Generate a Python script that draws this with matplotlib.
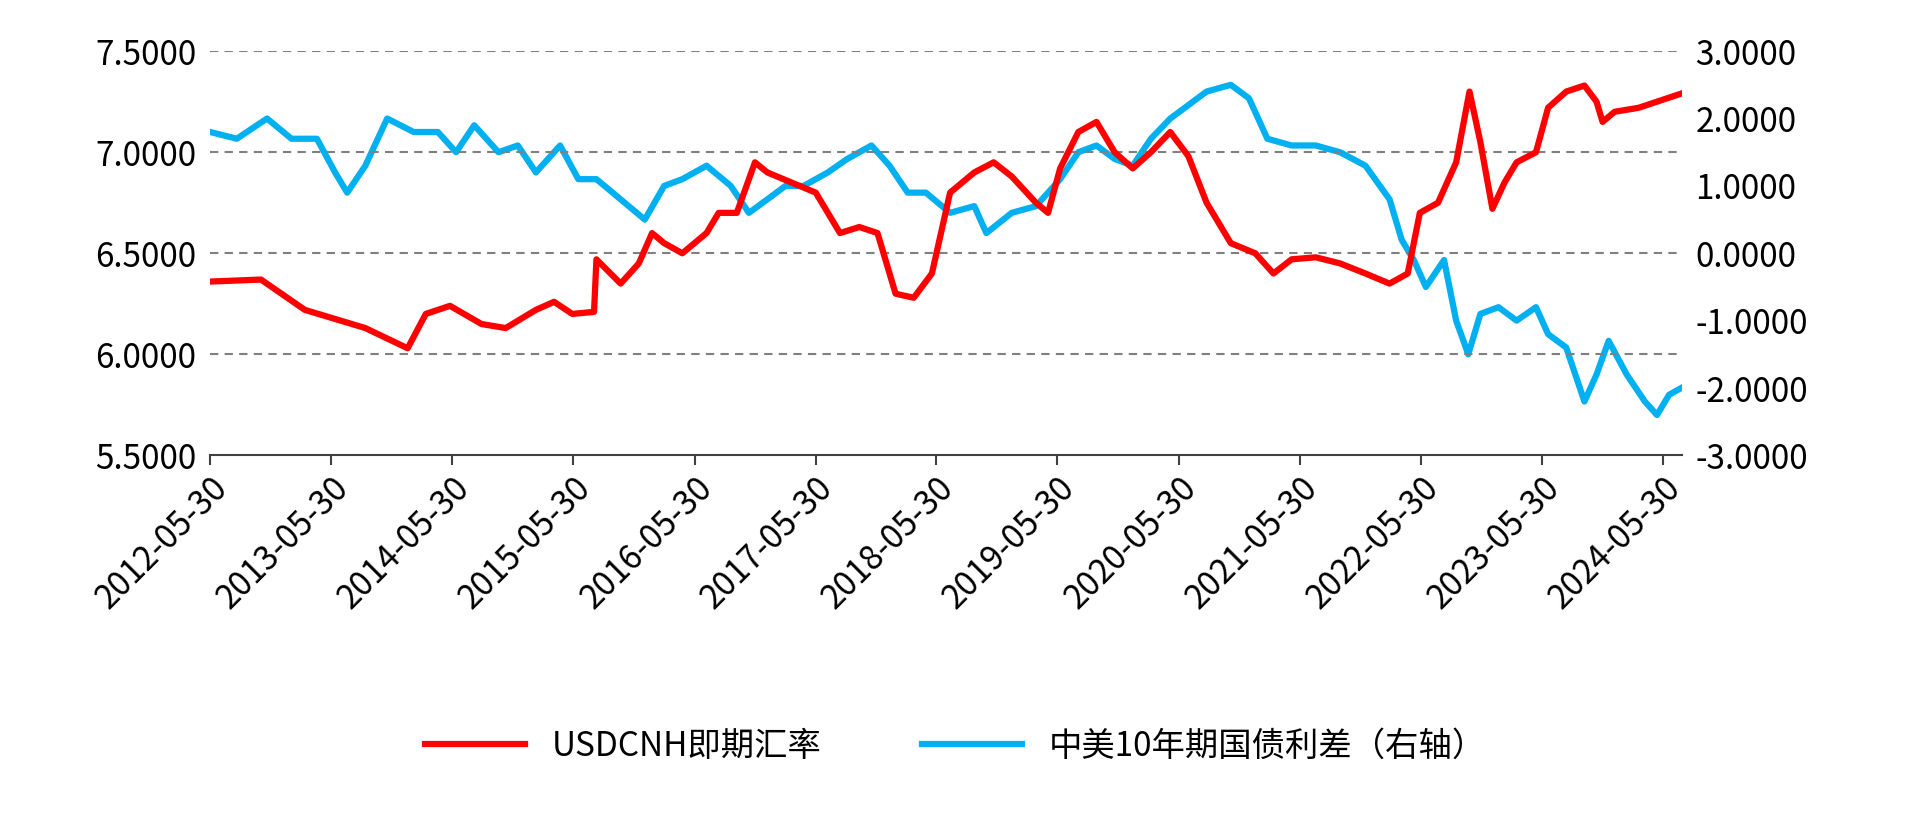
import matplotlib
matplotlib.use("Agg")
import matplotlib.pyplot as plt
import pandas as pd
import numpy as np

plt.rcParams["font.family"] = ["Noto Sans CJK SC"]

red_t = [2012.41,2012.83,2013.19,2013.69,2014.04,2014.19,2014.39,2014.65,2014.85,2015.10,2015.25,2015.40,2015.58,2015.60,2015.80,2015.95,2016.06,2016.16,2016.31,2016.51,2016.61,2016.76,2016.91,2017.01,2017.21,2017.41,2017.61,2017.77,2017.92,2018.07,2018.22,2018.37,2018.52,2018.72,2018.88,2019.03,2019.23,2019.33,2019.43,2019.58,2019.73,2019.88,2020.03,2020.18,2020.34,2020.49,2020.64,2020.84,2021.04,2021.19,2021.34,2021.54,2021.74,2021.95,2022.15,2022.30,2022.40,2022.55,2022.70,2022.81,2022.90,2023.00,2023.10,2023.20,2023.36,2023.46,2023.61,2023.76,2023.86,2023.91,2024.01,2024.21,2024.36,2024.56]
red_v = [6.36,6.37,6.22,6.13,6.03,6.20,6.24,6.15,6.13,6.22,6.26,6.20,6.21,6.47,6.35,6.45,6.60,6.55,6.50,6.60,6.70,6.70,6.95,6.90,6.85,6.80,6.60,6.63,6.60,6.30,6.28,6.40,6.80,6.90,6.95,6.88,6.75,6.70,6.92,7.10,7.15,7.00,6.92,7.00,7.10,6.98,6.75,6.55,6.50,6.40,6.47,6.48,6.45,6.40,6.35,6.40,6.70,6.75,6.95,7.30,7.05,6.72,6.85,6.95,7.00,7.22,7.30,7.33,7.25,7.15,7.20,7.22,7.25,7.29]

blue_t = [2012.41,2012.63,2012.88,2013.08,2013.29,2013.44,2013.54,2013.69,2013.87,2014.09,2014.29,2014.44,2014.59,2014.79,2014.95,2015.10,2015.30,2015.45,2015.60,2015.80,2016.00,2016.16,2016.31,2016.51,2016.71,2016.86,2017.01,2017.16,2017.31,2017.51,2017.67,2017.87,2018.02,2018.17,2018.32,2018.52,2018.72,2018.82,2019.03,2019.23,2019.43,2019.58,2019.73,2019.88,2020.03,2020.18,2020.34,2020.49,2020.64,2020.84,2020.99,2021.14,2021.34,2021.54,2021.74,2021.95,2022.15,2022.25,2022.35,2022.45,2022.60,2022.70,2022.80,2022.90,2023.05,2023.20,2023.36,2023.46,2023.61,2023.76,2023.86,2023.96,2024.11,2024.26,2024.36,2024.46,2024.56]
blue_v = [1.8,1.7,2.0,1.7,1.7,1.2,0.9,1.3,2.0,1.8,1.8,1.5,1.9,1.5,1.6,1.2,1.6,1.1,1.1,0.8,0.5,1.0,1.1,1.3,1.0,0.6,0.8,1.0,1.0,1.2,1.4,1.6,1.3,0.9,0.9,0.6,0.7,0.3,0.6,0.7,1.1,1.5,1.6,1.4,1.3,1.7,2.0,2.2,2.4,2.5,2.3,1.7,1.6,1.6,1.5,1.3,0.8,0.2,-0.1,-0.5,-0.1,-1.0,-1.5,-0.9,-0.8,-1.0,-0.8,-1.2,-1.4,-2.2,-1.8,-1.3,-1.8,-2.2,-2.4,-2.1,-2.0]

left_ticks = [5.5, 6.0, 6.5, 7.0, 7.5]
right_ticks = [-3, -2, -1, 0, 1, 2, 3]
x_tick_labels = [f"{y}-05-30" for y in range(2012, 2025)]

def to_date(t):
    t = np.asarray(t)
    base = pd.to_datetime([f"{int(y)}-01-01" for y in t])
    return base + pd.to_timedelta((t - t.astype(int)) * 365.25, unit="D")

fig = plt.figure(figsize=(19.11, 8.25), dpi=100)
ax = fig.add_axes([0.110, 0.448, 0.770, 0.490])
ax2 = ax.twinx()

ax2.plot(to_date(blue_t), blue_v, color="#00B0F0", lw=4.5, label="中美10年期国债利差（右轴）")
ax.plot(to_date(red_t), red_v, color="#FF0000", lw=4.5, label="USDCNH即期汇率", zorder=3)
ax.set_zorder(ax2.get_zorder() + 1)
ax.patch.set_visible(False)

ax.set_ylim(5.5, 7.5)
ax.set_yticks(left_ticks)
ax.set_yticklabels([f"{v:.4f}" for v in left_ticks])
ax2.set_ylim(-3, 3)
ax2.set_yticks(right_ticks)
ax2.set_yticklabels([f"{v:.4f}" for v in right_ticks])
for v in left_ticks[1:]:
    ax.axhline(v, color="#808080", ls=(0, (4, 3)), lw=1.5, zorder=0)

xt = pd.to_datetime(x_tick_labels)
ax.set_xticks(xt)
ax.set_xticklabels(x_tick_labels, rotation=45, ha="right", rotation_mode="anchor")
ax.set_xlim(pd.Timestamp("2012-05-30"), pd.Timestamp("2024-07-25"))

for a in (ax, ax2):
    for s in ["top", "left", "right"]:
        a.spines[s].set_visible(False)
    a.tick_params(axis="y", length=0, labelsize=24, pad=10)
ax.spines["bottom"].set_visible(False)
ax2.spines["bottom"].set_color("#404040")
ax2.spines["bottom"].set_linewidth(1.5)
ax.tick_params(axis="x", labelsize=24, length=7, width=1.5, color="#404040", pad=4)

h1, l1 = ax.get_legend_handles_labels()
h2, l2 = ax2.get_legend_handles_labels()
fig.legend(h1 + h2, l1 + l2, loc="center", bbox_to_anchor=(0.5, 0.095), ncol=2,
           frameon=False, fontsize=24, handlelength=3, columnspacing=3)

fig.savefig("out.png", dpi=100)
